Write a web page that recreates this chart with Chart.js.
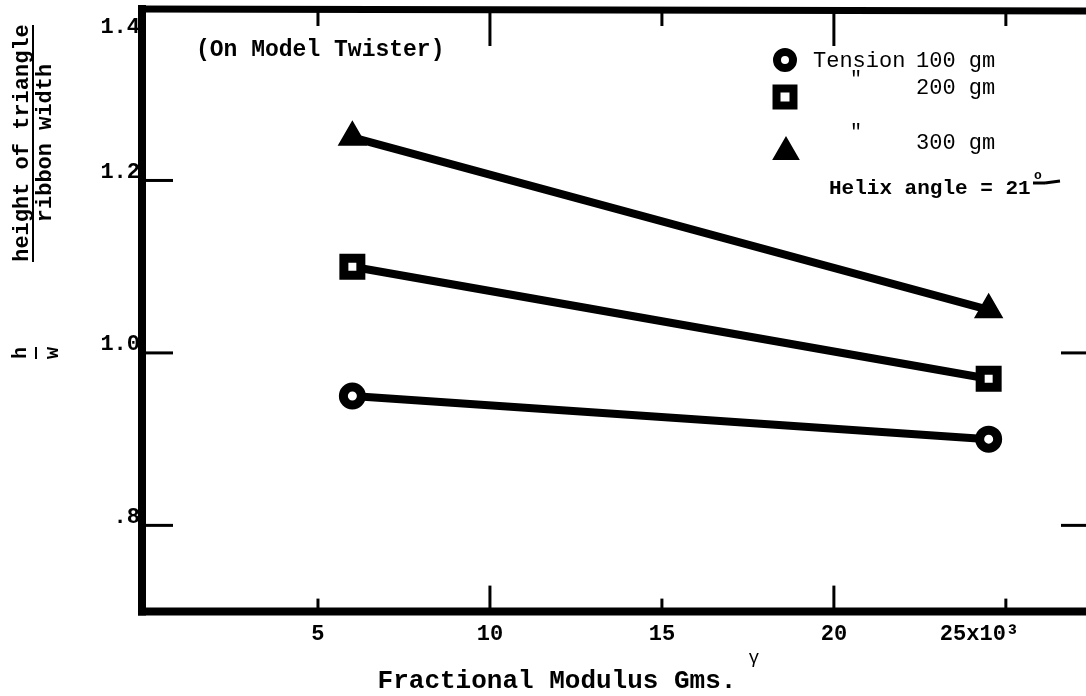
<!DOCTYPE html>
<html>
<head>
<meta charset="utf-8">
<script src="https://cdn.jsdelivr.net/npm/chart.js@4.4.1/dist/chart.umd.min.js"></script>
<style>
  html, body { margin: 0; padding: 0; background: #fff; }
</style>
</head>
<body>
<canvas id="myChart" width="1086" height="696"></canvas>
<script>
// fractional modulus (x10^3 gms) of the two test points
var modulus = [6, 24.5];
var tension100 = [0.95, 0.90];
var tension200 = [1.10, 0.97];
var tension300 = [1.25, 1.05];

var xTicks = [5, 10, 15, 20, 25];
var xTickLabels = ["5", "10", "15", "20", "25x10³"];
var yTicks = [0.8, 1.0, 1.2, 1.4];
var yTickLabels = [".8", "1.0", "1.2", "1.4"];

var FONT = '"Liberation Mono", "DejaVu Sans Mono", monospace';

function points(vals) {
    return modulus.map(function(x, i) { return { x: x, y: vals[i] }; });
}

function txt(ctx, s, x, y, size, weight, align) {
    ctx.font = weight + ' ' + size + 'px ' + FONT;
    ctx.textAlign = align || 'left';
    ctx.textBaseline = 'middle';
    ctx.fillStyle = '#000';
    ctx.fillText(s, x, y);
}

function line(ctx, x1, y1, x2, y2, w) {
    ctx.beginPath();
    ctx.lineWidth = w;
    ctx.moveTo(x1, y1);
    ctx.lineTo(x2, y2);
    ctx.stroke();
}

// frame, tick marks, y labels, notes and the hand made key
var paperPlugin = {
    id: 'paper',
    afterDraw: function(chart) {
        var ctx = chart.ctx;
        var a = chart.chartArea;
        var xs = chart.scales.x, ys = chart.scales.y;
        ctx.save();
        ctx.strokeStyle = '#000';
        ctx.lineCap = 'butt';

        // box: left, top, bottom (right edge falls off the page)
        line(ctx, a.left - 4, a.top - 3, a.left - 4, a.bottom + 4, 8);
        line(ctx, a.left - 8, a.top + 1, a.right, a.top + 3, 7);
        line(ctx, a.left - 8, a.bottom, a.right, a.bottom, 8);

        xTicks.forEach(function(v) {
            var px = xs.getPixelForValue(v);
            var major = v % 10 === 0;
            line(ctx, px, a.bottom - 3, px, a.bottom - (major ? 26 : 13), 3);
            line(ctx, px, a.top + 4, px, a.top + (major ? 38 : 18), 3);
        });

        yTicks.forEach(function(v, i) {
            var py = ys.getPixelForValue(v);
            if (i < yTicks.length - 1) {
                line(ctx, a.left, py, a.left + 27, py, 3);
                if (v < 1.1) line(ctx, a.right - 25, py, a.right, py, 3);
                txt(ctx, yTickLabels[i], a.left - 6, py - 8, 22, 'bold', 'right');
            } else {
                txt(ctx, yTickLabels[i], a.left - 6, py + 19, 22, 'bold', 'right');
            }
        });

        // y axis caption, written sideways as a fraction
        ctx.save();
        ctx.translate(0, 143);
        ctx.rotate(-Math.PI / 2);
        txt(ctx, 'height of triangle', 0, 22, 22, 'bold', 'center');
        txt(ctx, 'ribbon width', 0, 45, 22, 'bold', 'center');
        ctx.restore();
        line(ctx, 33, 25, 33, 262, 2);

        ctx.save();
        ctx.translate(0, 353);
        ctx.rotate(-Math.PI / 2);
        txt(ctx, 'h', 0, 21, 20, 'bold', 'center');
        txt(ctx, 'w', 0, 53, 20, 'bold', 'center');
        ctx.restore();
        line(ctx, 36, 347, 36, 359, 2);

        // x axis caption
        txt(ctx, 'Fractional Modulus Gms.', 557, 681, 26, 'bold', 'center');
        txt(ctx, 'γ', 754, 658, 18, 'normal', 'center');

        txt(ctx, '(On Model Twister)', 196, 50, 23, 'bold', 'left');

        // key
        var H = Chart.helpers;
        ctx.fillStyle = '#fff';
        ctx.strokeStyle = '#000';
        ctx.lineWidth = 8;
        H.drawPoint(ctx, { pointStyle: 'circle', radius: 8, borderWidth: 8, rotation: 0 }, 785, 60);
        ctx.lineWidth = 8;
        H.drawPoint(ctx, { pointStyle: 'rect', radius: 12, borderWidth: 8, rotation: 0 }, 785, 97);
        ctx.fillStyle = '#000';
        ctx.lineWidth = 3;
        H.drawPoint(ctx, { pointStyle: 'triangle', radius: 13, borderWidth: 3, rotation: 0 }, 786, 152);

        txt(ctx, 'Tension', 813, 61, 22, 'normal', 'left');
        txt(ctx, '100 gm', 916, 61, 22, 'normal', 'left');
        txt(ctx, '"', 850, 80, 20, 'normal', 'left');
        txt(ctx, '200 gm', 916, 88, 22, 'normal', 'left');
        txt(ctx, '"', 850, 133, 20, 'normal', 'left');
        txt(ctx, '300 gm', 916, 143, 22, 'normal', 'left');

        txt(ctx, 'Helix angle = 21', 829, 189, 21, 'bold', 'left');
        txt(ctx, 'o', 1038, 176, 13, 'bold', 'center');
        ctx.strokeStyle = '#000';
        line(ctx, 1033, 183, 1045, 183, 3);
        line(ctx, 1045, 183, 1060, 181, 3);

        ctx.restore();
    }
};

var ctx = document.getElementById("myChart");

var myChart = new Chart(ctx, {
    type: 'scatter',
    data: {
        datasets: [
            {
                label: 'Tension 100 gm',
                data: points(tension100),
                showLine: true,
                borderColor: '#000',
                borderWidth: 8,
                pointStyle: 'circle',
                pointRadius: 9,
                pointBorderWidth: 9,
                pointBackgroundColor: '#fff',
                pointBorderColor: '#000'
            },
            {
                label: '200 gm',
                data: points(tension200),
                showLine: true,
                borderColor: '#000',
                borderWidth: 8,
                pointStyle: 'rect',
                pointRadius: 12,
                pointBorderWidth: 9,
                pointBackgroundColor: '#fff',
                pointBorderColor: '#000'
            },
            {
                label: '300 gm',
                data: points(tension300),
                showLine: true,
                borderColor: '#000',
                borderWidth: 8,
                pointStyle: 'triangle',
                pointRadius: 14,
                pointBorderWidth: 3,
                pointBackgroundColor: '#000',
                pointBorderColor: '#000'
            }
        ]
    },
    options: {
        responsive: false,
        animation: false,
        events: [],
        layout: { autoPadding: false, padding: { left: 146, top: 8, right: 0, bottom: 38 } },
        plugins: {
            legend: { display: false },
            tooltip: { enabled: false }
        },
        scales: {
            x: {
                type: 'linear',
                min: 0,
                max: 27.33,
                grid: { display: false, drawTicks: false },
                border: { display: false },
                ticks: {
                    stepSize: 5,
                    includeBounds: false,
                    autoSkip: false,
                    maxRotation: 0,
                    padding: 10,
                    color: '#000',
                    font: { family: FONT, size: 22, weight: 'bold' },
                    callback: function(v) {
                        var i = xTicks.indexOf(v);
                        if (i < 0) return null;
                        // the last label was typed to the left of its tick
                        return i === xTicks.length - 1 ? xTickLabels[i] + '    ' : xTickLabels[i];
                    }
                }
            },
            y: {
                type: 'linear',
                display: false,
                min: 0.7,
                max: 1.4
            }
        }
    },
    plugins: [paperPlugin]
});
</script>
</body>
</html>
